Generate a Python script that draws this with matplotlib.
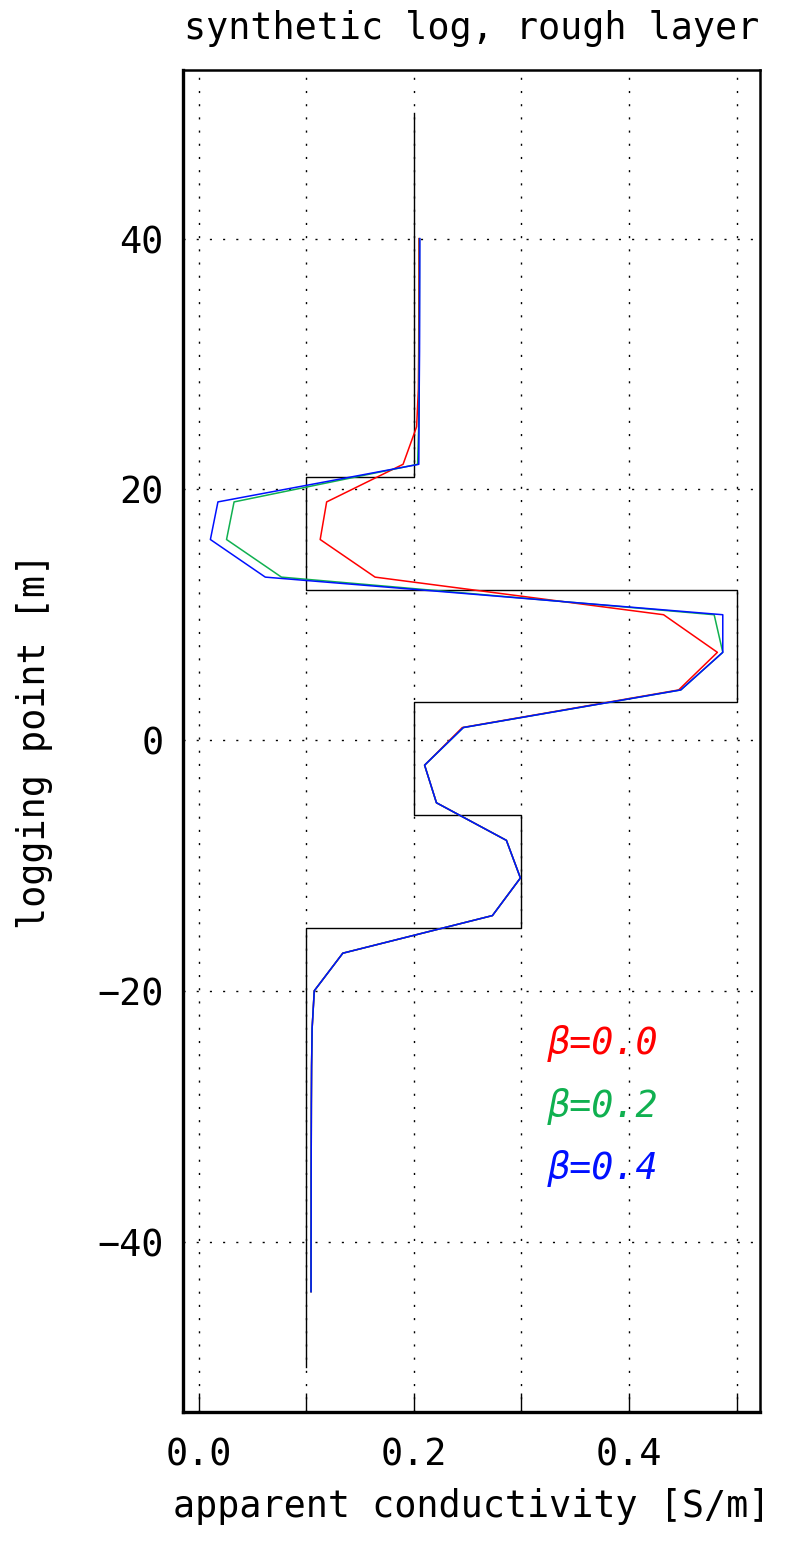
import numpy as np
import matplotlib
matplotlib.use("Agg")
import matplotlib.pyplot as plt
from matplotlib.ticker import FixedLocator

# ---------- DATA ----------
# layered true-conductivity model (step profile)
model_sigma = [0.2, 0.2, 0.1, 0.1, 0.5, 0.5, 0.2, 0.2, 0.3, 0.3, 0.1, 0.1]
model_depth = [50, 21, 21, 12, 12, 3, 3, -6, -6, -15, -15, -50]

# logging points [m]
log_pts = [40, 37, 34, 31, 28, 25, 22, 19, 16, 13, 10, 7, 4, 1, -2, -5,
           -8, -11, -14, -17, -20, -23, -26, -29, -32, -35, -38, -41, -44]

# apparent conductivity for each roughness parameter
sigma_b00 = [0.2047, 0.2047, 0.2046, 0.2045, 0.2042, 0.2026, 0.190, 0.119,
             0.113, 0.164, 0.432, 0.482, 0.446, 0.245, 0.210, 0.221, 0.286,
             0.299, 0.273, 0.134, 0.1075, 0.1055, 0.1050, 0.1048, 0.1047,
             0.1046, 0.1046, 0.1045, 0.1045]
sigma_b02 = [0.2052, 0.2052, 0.2051, 0.2050, 0.2048, 0.2045, 0.2035, 0.033,
             0.026, 0.077, 0.479, 0.487, 0.448, 0.246, 0.210, 0.221, 0.286,
             0.299, 0.273, 0.134, 0.1075, 0.1055, 0.1050, 0.1048, 0.1047,
             0.1046, 0.1046, 0.1045, 0.1045]
sigma_b04 = [0.2056, 0.2055, 0.2054, 0.2053, 0.2050, 0.2048, 0.2046, 0.018,
             0.011, 0.062, 0.487, 0.487, 0.448, 0.246, 0.210, 0.221, 0.286,
             0.299, 0.273, 0.134, 0.1075, 0.1055, 0.1050, 0.1048, 0.1047,
             0.1046, 0.1046, 0.1045, 0.1045]

beta_labels = ["0.0", "0.2", "0.4"]
beta_colors = ["#ff0000", "#10b050", "#0010ff"]

x_major = [0.0, 0.2, 0.4]
x_minor = [0.1, 0.3, 0.5]
y_major = [-40, -20, 0, 20, 40]
# --------------------------

FONT = dict(family="DejaVu Sans Mono", weight="normal")
FS = 26.5

fig = plt.figure(figsize=(7.89, 15.43), dpi=100)
ax = fig.add_axes([0.232, 0.0849, 0.731, 0.8697])

ax.plot(model_sigma, model_depth, color="black", lw=1.0)
for vals, col in zip([sigma_b00, sigma_b02, sigma_b04], beta_colors):
    ax.plot(vals, log_pts, color=col, lw=1.1)

ax.set_xlim(-0.0144, 0.5214)
ax.set_ylim(-53.6, 53.45)

ax.xaxis.set_major_locator(FixedLocator(x_major))
ax.xaxis.set_minor_locator(FixedLocator(x_minor))
ax.yaxis.set_major_locator(FixedLocator(y_major))
ax.set_xticklabels([f"{v:.1f}" for v in x_major])
ax.set_yticklabels([f"{v:d}".replace("-", "\u2212") for v in y_major])

ax.tick_params(axis="x", which="both", direction="in", length=14, width=1.0,
               pad=18, top=False)
ax.tick_params(axis="y", which="both", length=0, pad=14)
for lab in ax.get_xticklabels() + ax.get_yticklabels():
    lab.set_fontsize(FS)
    lab.set_fontfamily(FONT["family"])
    lab.set_fontweight(FONT["weight"])

ax.grid(True, which="both", axis="x", color="black", lw=1.0,
        linestyle=(0, (1.5, 8)))
ax.grid(True, which="major", axis="y", color="black", lw=1.0,
        linestyle=(0, (1.5, 8)))

for side, sp in ax.spines.items():
    sp.set_linewidth(2.4 if side in ("left", "bottom") else 1.8)
    sp.set_color("black")

ax.set_title("synthetic log, rough layer", fontsize=FS, pad=22, **FONT)
ax.set_xlabel("apparent conductivity [S/m]", fontsize=FS, labelpad=10, **FONT)
ax.set_ylabel("logging point [m]", fontsize=FS, labelpad=32, **FONT)

# roughness labels
for i, (lab, col) in enumerate(zip(beta_labels, beta_colors)):
    ax.text(0.3245, -24.2 - 5.0 * i, "\u03b2=" + lab, color=col,
            fontsize=FS, va="center", ha="left", style="italic", **FONT)

fig.savefig("out.png", dpi=100)
